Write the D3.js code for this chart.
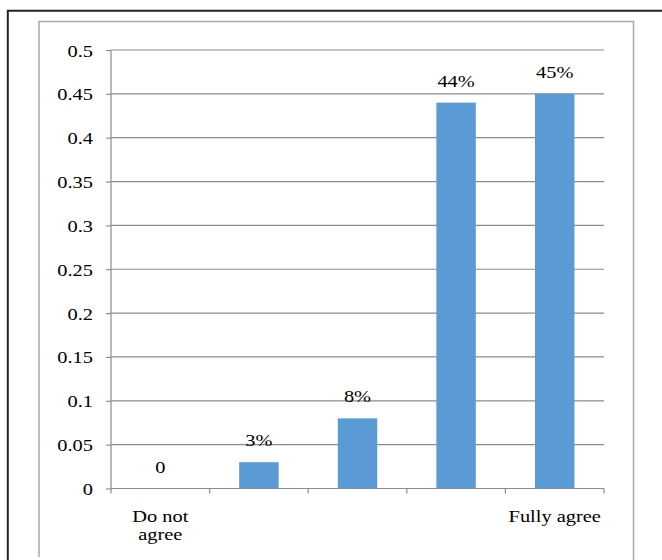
<!DOCTYPE html>
<html lang="en">
<head>
<meta charset="UTF-8">
<title>Agreement bar chart</title>
<script src="https://d3js.org/d3.v7.min.js"></script>
<style>
  body { margin: 0; background: #fff; }
  text { font-family: "Liberation Serif", "Times New Roman", serif; fill: #000; }
</style>
</head>
<body>
<div id="chart"></div>
<script>
// chart data
var categories = ["Do not agree", "c2", "c3", "c4", "Fully agree"];
var categoryLabels = [["Do not", "agree"], [], [], [], ["Fully agree"]];
var values = [0, 0.03, 0.08, 0.44, 0.45];
var valueLabels = ["0", "3%", "8%", "44%", "45%"];
var yTicks = [0, 0.05, 0.1, 0.15, 0.2, 0.25, 0.3, 0.35, 0.4, 0.45, 0.5];

var W = 662, H = 560;
var margin = {top: 50, left: 111, right: 58, bottom: 71.5};
var width = W - margin.left - margin.right;
var height = H - margin.top - margin.bottom;
var sx = 1.2; // text in the picture is stretched horizontally

var svg = d3.select("#chart").append("svg")
    .attr("width", W).attr("height", H);

// outer frames
svg.append("path")
    .attr("d", "M7.8," + H + "V10.8H" + W)
    .attr("fill", "none").attr("stroke", "#222").attr("stroke-width", 2);
svg.append("path")
    .attr("d", "M39," + (H - 3) + "V21.5H633.5V" + H)
    .attr("fill", "none").attr("stroke", "#aaa").attr("stroke-width", 1.5);

var g = svg.append("g")
    .attr("transform", "translate(" + margin.left + "," + margin.top + ")");

var x = d3.scaleBand().domain(categories).range([0, width]).padding(0);
var y = d3.scaleLinear().domain([0, 0.5]).range([height, 0]);

// gridlines
g.selectAll(".grid").data(yTicks.slice(1)).enter().append("line")
    .attr("x1", 0).attr("x2", width)
    .attr("y1", d => y(d)).attr("y2", d => y(d))
    .attr("stroke", "#8c8c8c").attr("stroke-width", 1.2);

// y axis
var yAxis = g.append("g")
    .call(d3.axisLeft(y).tickValues(yTicks).tickSize(5).tickPadding(0).tickFormat(d3.format("")));
yAxis.select(".domain").attr("stroke", "#8c8c8c").attr("stroke-width", 1.2)
    .attr("d", "M0," + y(0.5) + "V" + height);
yAxis.selectAll(".tick line").attr("stroke", "#8c8c8c").attr("stroke-width", 1.2);
yAxis.selectAll(".tick text").remove();
yAxis.selectAll(".tick").append("text")
    .attr("transform", "translate(-18,6) scale(" + sx + ",1)")
    .attr("text-anchor", "end")
    .style("font-size", "17px")
    .text(d => d3.format("")(d));

// x axis
var xAxisG = g.append("g").attr("transform", "translate(0," + height + ")");
xAxisG.append("line").attr("x1", 0).attr("x2", width)
    .attr("stroke", "#8c8c8c").attr("stroke-width", 1.2);
var bounds = categories.map(c => x(c)).concat([width]);
xAxisG.selectAll(".xtick").data(bounds).enter().append("line")
    .attr("x1", d => d).attr("x2", d => d).attr("y1", 0).attr("y2", 5)
    .attr("stroke", "#8c8c8c").attr("stroke-width", 1.2);

categories.forEach(function(c, i) {
    categoryLabels[i].forEach(function(line, j) {
        xAxisG.append("text")
            .attr("transform", "translate(" + (x(c) + x.bandwidth() / 2) + "," + (33 + j * 18.5) + ") scale(" + sx + ",1)")
            .attr("text-anchor", "middle")
            .style("font-size", "17px")
            .text(line);
    });
});

// bars
var barW = x.bandwidth() * 0.4;
g.selectAll(".bar").data(values).enter().append("rect")
    .attr("x", (d, i) => x(categories[i]) + (x.bandwidth() - barW) / 2)
    .attr("y", d => y(d))
    .attr("width", barW)
    .attr("height", d => height - y(d))
    .attr("fill", "#5b9bd5");

// value labels
g.selectAll(".vlabel").data(values).enter().append("text")
    .attr("transform", (d, i) => "translate(" + (x(categories[i]) + x.bandwidth() / 2) + "," + (y(d) - 16) + ") scale(" + sx + ",1)")
    .attr("text-anchor", "middle")
    .style("font-size", "17px")
    .text((d, i) => valueLabels[i]);
</script>
</body>
</html>
